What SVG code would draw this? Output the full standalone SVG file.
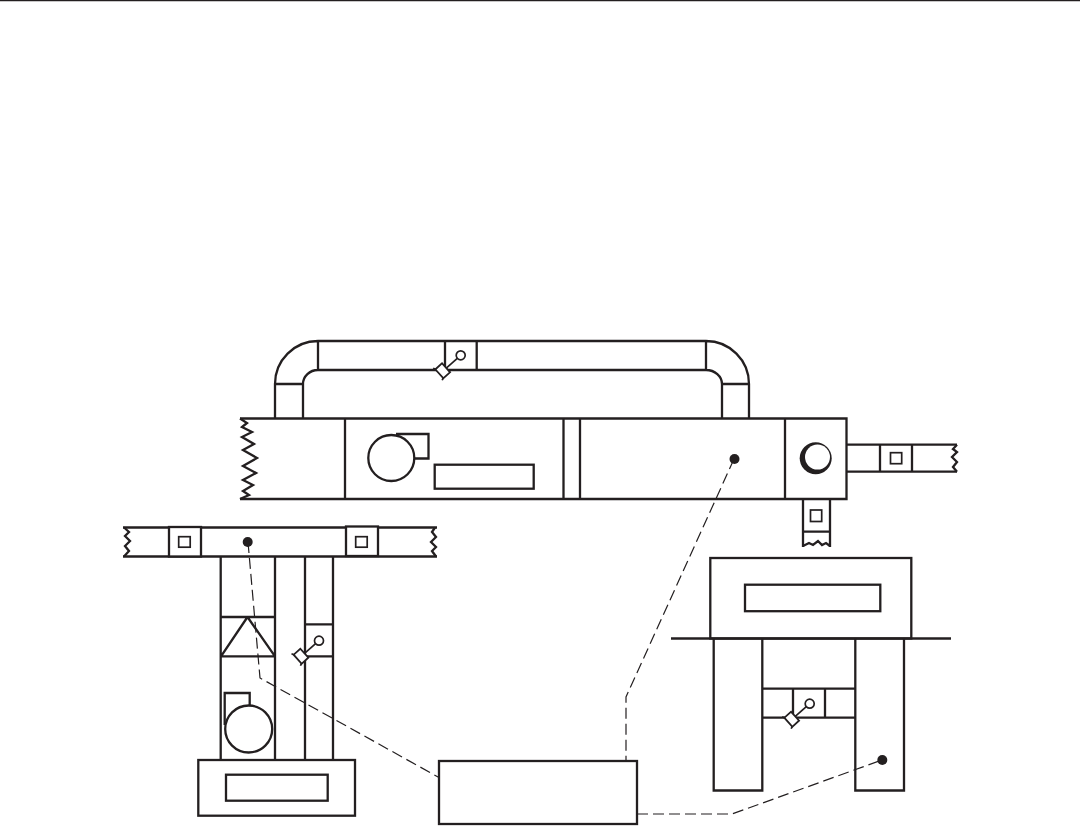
<svg xmlns="http://www.w3.org/2000/svg" width="1080" height="826" viewBox="0 0 1080 826">
<defs>
<style>
.l{fill:none;stroke:#231f20;stroke-width:2.3;stroke-linejoin:miter}
.t{fill:none;stroke:#231f20;stroke-width:1.7}
.f{fill:#fff;stroke:#231f20;stroke-width:2.3}
.d{fill:none;stroke:#231f20;stroke-width:1.2;stroke-dasharray:11 5}
.dot{fill:#231f20}
</style>
<g id="dmp">
<path class="t" d="M0 0L-17 15"/>
<circle class="f" style="stroke-width:1.7" r="4.500"/>
<rect class="f" style="stroke-width:1.8" x="-6" y="-4.500" width="12" height="9" transform="translate(-18 15.500) rotate(48)"/>
<path class="t" d="M-25 14L-27.500 13M-17.500 22.500L-18.500 25"/>
</g>
</defs>
<rect width="1080" height="826" fill="#fff"/>
<path class="l" d="M0 0H1080"/>
<g id="return-duct">
<path class="l" d="M275 418V384A43 43 0 0 1 318 341H706A43 43 0 0 1 749 384V418M303 418V384A15 14 0 0 1 318 370H706A16 14 0 0 1 722 384V418M275 384H303M722 384H749M318 341V370M706 341V370"/>
<path class="l" d="M445 341V370M476.700 341V370"/>
<use href="#dmp" x="460.700" y="355.300"/>
</g>
<g id="air-handler">
<path class="l" d="M240 418.500H846.500V499H240M345 418.500V499M563.500 418.500V499M580 418.500V499M785 418.500V499M846.500 418.500V499"/>
<path class="l" d="M240 418.500L247 423 242 427 252 432 242 437 254 444 243 450 257 458 243 466 256 473 243 480 253 485 243 491 249 495 240 499"/>
<circle class="l" cx="391.300" cy="458" r="23"/>
<path class="l" d="M396 434H428.500V458.500H414"/>
<rect class="l" x="434.700" y="464.700" width="99" height="24"/>
<circle fill="#231f20" cx="815.700" cy="458.300" r="16"/>
<circle fill="#fff" cx="817.500" cy="457.100" r="12.500"/>
</g>
<g id="supply-duct-right">
<path class="l" d="M846.500 444.700H957M846.500 471.700H957M880 444.700V471.700M912 444.700V471.700"/>
<path class="l" d="M957 444.700L953 449 957 452 952 457 957 462 953 467 957 471.700"/>
<rect class="t" x="890.500" y="452.700" width="11.200" height="11"/>
</g>
<g id="supply-duct-down">
<path class="l" d="M803 499V547M830 499V547M803 531.700H830"/>
<path class="l" d="M803 546L809 543 813 545 818 541 822 545 826 543 830 546"/>
<rect class="t" x="810.500" y="510" width="11.200" height="11.500"/>
</g>
<g id="upper-duct-left">
<path class="l" d="M123 527.500H437M123 556.500H437"/>
<path class="l" d="M124 527.500L129 532 125 536 130 541 125 546 129 551 124 556.500M435 527.500L432 532 436 537 431 542 436 547 432 551 436 556.500"/>
<rect class="f" x="169" y="527" width="32" height="29.500"/>
<rect class="t" x="178.700" y="536.700" width="11.500" height="10.500"/>
<rect class="f" x="346" y="526.500" width="32" height="29.500"/>
<rect class="t" x="355.700" y="536.700" width="11.500" height="10.500"/>
</g>
<g id="vertical-unit">
<path class="l" d="M220.700 557V760M275 557V760M220.700 617H275M220.700 656.300H275M247.500 617L221 656.300M247.500 617L275 656.300"/>
<circle class="l" cx="248.700" cy="729" r="23.500"/>
<path class="l" d="M224.700 725V693H249.700V706"/>
<path class="l" d="M305 557V760M333 557V760M305 624.300H333M305 656.300H333"/>
<use href="#dmp" x="319" y="640.700"/>
<rect class="l" x="198.300" y="760" width="156.700" height="55.700"/>
<rect class="l" x="226" y="774.700" width="101.700" height="26"/>
</g>
<g id="right-unit">
<rect class="l" x="710.300" y="558" width="201" height="80.500"/>
<rect class="l" x="745" y="584.700" width="135.300" height="26.500"/>
<path class="l" d="M671 638.500H951"/>
<path class="l" d="M713.700 638.500V790.500H762.300V638.500M855.300 638.500V790.500H904V638.500"/>
<path class="l" d="M762.300 688.700H855.300M762.300 717.700H855.300M793 688.700V717.700M825 688.700V717.700"/>
<use href="#dmp" x="809.700" y="703.700"/>
</g>
<g id="controller">
<rect class="l" x="439" y="761" width="198" height="63"/>
</g>
<g id="connectors">
<path class="d" d="M248 542L260 678L439 777.500"/>
<path class="d" d="M734 459L626 697V761"/>
<path class="d" d="M637 814H732L882 760"/>
<circle class="dot" cx="247.700" cy="542" r="5"/>
<circle class="dot" cx="734.500" cy="459" r="5"/>
<circle class="dot" cx="882.300" cy="760" r="5"/>
</g>
</svg>
